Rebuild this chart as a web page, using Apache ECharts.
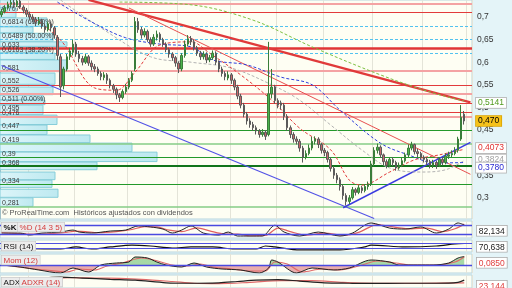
<!DOCTYPE html>
<html><head><meta charset="utf-8">
<script src="https://cdn.jsdelivr.net/npm/echarts@6/dist/echarts.min.js"></script>
<style>html,body{margin:0;padding:0;background:#e4f4f8}#c{width:512px;height:288px}</style>
</head><body><div id="c"></div>
<script>
// ---- DATA ----
// candles: [open, close, low, high]
const candles = [
[0.705,0.712,0.700,0.718],[0.712,0.720,0.708,0.726],[0.720,0.728,0.716,0.734],[0.728,0.732,0.722,0.738],[0.732,0.726,0.720,0.738],
[0.726,0.735,0.722,0.740],[0.735,0.722,0.718,0.738],[0.722,0.715,0.708,0.726],[0.715,0.706,0.700,0.720],[0.706,0.700,0.694,0.712],
[0.700,0.695,0.688,0.706],[0.695,0.688,0.680,0.700],[0.686,0.692,0.682,0.700],[0.692,0.680,0.674,0.696],[0.680,0.672,0.665,0.686],
[0.672,0.685,0.668,0.690],[0.685,0.676,0.668,0.690],[0.676,0.660,0.652,0.680],[0.655,0.615,0.605,0.660],[0.612,0.545,0.523,0.618],
[0.548,0.585,0.540,0.590],[0.585,0.612,0.580,0.618],[0.612,0.625,0.605,0.632],[0.622,0.640,0.615,0.650],[0.640,0.618,0.612,0.645],
[0.618,0.608,0.600,0.625],[0.608,0.600,0.593,0.614],[0.600,0.612,0.596,0.618],[0.612,0.598,0.592,0.616],[0.598,0.590,0.582,0.604],
[0.590,0.585,0.578,0.596],[0.585,0.575,0.570,0.590],[0.575,0.568,0.560,0.580],[0.566,0.572,0.560,0.578],[0.572,0.560,0.552,0.576],
[0.560,0.548,0.542,0.564],[0.548,0.540,0.532,0.552],[0.540,0.528,0.518,0.544],[0.528,0.522,0.512,0.532],[0.522,0.535,0.518,0.540],
[0.535,0.545,0.530,0.552],[0.545,0.560,0.540,0.565],[0.560,0.575,0.556,0.580],[0.585,0.690,0.580,0.700],[0.690,0.672,0.665,0.698],
[0.672,0.660,0.652,0.678],[0.660,0.668,0.655,0.675],[0.668,0.650,0.645,0.672],[0.650,0.640,0.634,0.655],[0.640,0.655,0.636,0.662],
[0.655,0.662,0.648,0.670],[0.662,0.650,0.644,0.666],[0.650,0.640,0.634,0.654],[0.640,0.628,0.622,0.644],[0.628,0.618,0.610,0.632],
[0.618,0.610,0.603,0.622],[0.610,0.598,0.590,0.614],[0.598,0.585,0.576,0.602],[0.585,0.615,0.580,0.620],[0.615,0.640,0.610,0.648],
[0.640,0.652,0.635,0.660],[0.652,0.645,0.638,0.658],[0.645,0.632,0.626,0.650],[0.632,0.620,0.614,0.636],[0.620,0.612,0.605,0.625],
[0.612,0.618,0.606,0.624],[0.618,0.605,0.598,0.622],[0.605,0.610,0.600,0.616],[0.610,0.620,0.605,0.626],[0.620,0.600,0.594,0.624],
[0.600,0.585,0.578,0.604],[0.585,0.575,0.568,0.590],[0.575,0.568,0.560,0.580],[0.565,0.572,0.560,0.580],[0.572,0.560,0.552,0.576],
[0.560,0.545,0.538,0.564],[0.545,0.525,0.518,0.550],[0.525,0.505,0.498,0.530],[0.505,0.485,0.478,0.510],[0.485,0.470,0.462,0.490],
[0.470,0.462,0.455,0.476],[0.462,0.455,0.448,0.468],[0.455,0.448,0.440,0.460],[0.448,0.440,0.433,0.452],[0.440,0.445,0.435,0.452],
[0.445,0.436,0.428,0.450],[0.440,0.530,0.436,0.645],[0.530,0.545,0.520,0.585],[0.545,0.515,0.508,0.550],[0.515,0.505,0.498,0.520],
[0.510,0.505,0.495,0.515],[0.505,0.480,0.472,0.510],[0.480,0.455,0.448,0.485],[0.455,0.440,0.432,0.460],[0.440,0.430,0.422,0.445],
[0.430,0.425,0.418,0.436],[0.425,0.410,0.402,0.430],[0.410,0.390,0.378,0.415],[0.390,0.398,0.385,0.405],[0.398,0.410,0.394,0.418],
[0.410,0.425,0.405,0.435],[0.425,0.430,0.418,0.436],[0.430,0.418,0.410,0.434],[0.418,0.405,0.398,0.422],[0.405,0.400,0.392,0.410],
[0.400,0.385,0.378,0.404],[0.385,0.365,0.358,0.390],[0.365,0.350,0.342,0.370],[0.350,0.340,0.332,0.355],[0.340,0.325,0.316,0.345],
[0.325,0.305,0.296,0.330],[0.305,0.292,0.283,0.310],[0.292,0.300,0.286,0.306],[0.300,0.318,0.296,0.324],[0.318,0.312,0.305,0.322],
[0.312,0.322,0.308,0.328],[0.322,0.316,0.310,0.326],[0.316,0.325,0.312,0.330],[0.325,0.330,0.318,0.336],[0.330,0.375,0.326,0.382],
[0.375,0.405,0.370,0.412],[0.405,0.412,0.398,0.420],[0.412,0.395,0.388,0.416],[0.395,0.380,0.372,0.398],[0.380,0.372,0.365,0.385],
[0.372,0.385,0.368,0.390],[0.385,0.378,0.370,0.390],[0.378,0.366,0.360,0.382],[0.366,0.372,0.362,0.378],[0.372,0.382,0.368,0.388],
[0.382,0.395,0.378,0.400],[0.395,0.410,0.390,0.418],[0.410,0.418,0.405,0.424],[0.418,0.402,0.396,0.420],[0.402,0.398,0.390,0.408],
[0.398,0.390,0.384,0.402],[0.390,0.385,0.378,0.394],[0.385,0.380,0.372,0.390],[0.380,0.372,0.365,0.384],[0.372,0.378,0.366,0.384],
[0.378,0.372,0.364,0.382],[0.372,0.385,0.368,0.390],[0.385,0.378,0.372,0.390],[0.378,0.392,0.374,0.398],[0.392,0.395,0.386,0.402],
[0.395,0.398,0.390,0.405],[0.398,0.405,0.394,0.412],[0.405,0.430,0.400,0.435],[0.430,0.478,0.426,0.505],[0.485,0.470,0.462,0.492]
];
const slotCount = 152;
const categories = Array.from({length: slotCount}, (_, i) => 'S' + i);
const monthStarts = [9, 24, 41, 57, 74, 89, 104, 120, 136, 150];
const priceTicks = [0.3, 0.35, 0.45, 0.5, 0.55, 0.6, 0.65, 0.7];
const lastPrice = 0.470;

const levelPrices = [0.733, 0.707, 0.6814, 0.6489, 0.633, 0.6163, 0.581, 0.552, 0.526, 0.511, 0.495, 0.476, 0.447, 0.419, 0.39, 0.368, 0.334, 0.281];
const levelLabels = ['', '0,707', '0,6814 (61.80%)', '0,6489 (50.00%)', '0,633', '0,6163 (38.20%)', '0,581', '0,552', '0,526', '0,511 (0.00%)', '0,495', '0,476', '0,447', '0,419', '0,39', '0,368', '0,334', '0,281'];
const levelKinds = ['resLight','res','fib','fib','resStrong','fib','resLight','res','resLight','res','res','resLight','sup','supLight','sup','supStrong','sup','supLight'];

const profileLow  = [0.720,0.698,0.678,0.664,0.645,0.634,0.620,0.605,0.578,0.550,0.527,0.516,0.505,0.483,0.461,0.439,0.421,0.401,0.379,0.361,0.339,0.322,0.300,0.280];
const profileHigh = [0.738,0.720,0.698,0.678,0.664,0.645,0.634,0.620,0.605,0.576,0.545,0.527,0.516,0.505,0.483,0.461,0.439,0.421,0.401,0.379,0.357,0.339,0.319,0.300];
const profileVol  = [14,16,47,33,53,67,47,55,67,55,53,43,45,43,57,47,90,132,157,97,55,52,58,33];

const maRed = [[6,0.720],[19,0.649],[30,0.543],[37,0.538],[43,0.578],[51,0.638],[61,0.645],[67,0.620],[77,0.572],[87,0.516],[96,0.454],[106,0.406],[112,0.339],[116,0.328],[125,0.357],[133,0.384],[141,0.395],[149,0.4073]];
const maGray = [[19,0.7376],[32,0.676],[48,0.612],[61,0.600],[74,0.587],[87,0.550],[96,0.516],[106,0.461],[116,0.406],[125,0.366],[135,0.357],[143,0.362],[149,0.3824]];
const maBlue = [[18,0.733],[29,0.689],[40,0.654],[51,0.640],[61,0.634],[68,0.605],[79,0.594],[90,0.567],[100,0.550],[109,0.494],[122,0.421],[131,0.395],[140,0.377],[149,0.378]];
const maGreen = [[38,0.733],[61,0.727],[81,0.693],[100,0.634],[122,0.572],[138,0.534],[149,0.5141]];

const trendThick = [[28,0.738],[151,0.511]];
const trendThin = [[41,0.720],[151,0.352]];
const trendBlueDown = [[0,0.5925],[120,0.254]];
const trendBlueUp = [[110,0.278],[151,0.4226]];

const stochK = [[0,25],[6,25],[9,11],[13,25],[19,32],[23,46],[25,32],[29,25],[35,39],[40,46],[44,75],[48,68],[52,53],[55,25],[58,46],[61,75],[65,25],[70,11],[73,32],[76,4],[80,4],[84,4],[88,80],[91,32],[96,4],[102,32],[109,4],[113,25],[119,96],[125,60],[130,53],[135,68],[140,25],[144,53],[147,96],[149,82.134]];
const stochD = [[0,28],[8,20],[12,18],[20,28],[24,38],[27,35],[31,27],[37,35],[42,50],[46,70],[50,68],[54,45],[58,35],[63,62],[67,40],[72,18],[76,18],[80,6],[85,8],[89,60],[93,35],[98,10],[104,25],[110,10],[115,30],[121,85],[127,65],[132,55],[137,60],[142,35],[146,55],[149,88]];
const stochBands = [80, 20];
const rsi = [[0,42],[6,42],[10,27],[19,25],[24,42],[29,25],[35,42],[42,58],[48,50],[55,33],[61,42],[68,42],[75,25],[82,25],[85,50],[88,42],[96,17],[109,17],[117,42],[119,58],[130,42],[140,50],[146,67],[149,70.638]];
const rsiBands = [70, 30];
const mom = [[0,0],[6,-0.02],[12,-0.05],[19,-0.08],[23,-0.03],[28,-0.07],[32,0],[37,0.02],[41,0.03],[43,0.08],[47,0.07],[50,0.03],[53,0],[58,-0.02],[62,0.02],[66,-0.02],[71,-0.04],[77,-0.05],[83,-0.08],[86,-0.03],[87,0.05],[89,0.03],[95,-0.08],[100,-0.03],[107,-0.05],[112,-0.03],[119,0.05],[125,0.03],[128,0],[134,0],[139,0],[144,0.02],[147,0.07],[149,0.085]];
const momSignal = [[0,0.005],[8,-0.03],[14,-0.05],[21,-0.07],[25,-0.04],[30,-0.05],[34,-0.01],[39,0.02],[45,0.07],[49,0.05],[55,0],[60,-0.01],[64,0.01],[68,-0.02],[74,-0.04],[80,-0.06],[85,-0.06],[88,0.03],[92,0.01],[97,-0.07],[103,-0.04],[109,-0.05],[115,-0.01],[121,0.04],[127,0.02],[132,0],[140,0],[146,0.03],[149,0.08]];
const adx = [[0,20],[10,26],[19,30],[26,28],[35,25],[43,23],[53,17],[60,16],[70,17],[76,20],[82,23],[89,24.5],[96,21],[104,17],[112,16],[118,15.5],[130,16],[140,16],[147,18],[149,23.144]];
const adxr = [[0,22],[12,25],[22,29],[30,28],[38,27],[45,25],[55,20],[62,16],[70,15],[80,18],[90,22],[100,22],[110,18],[120,16],[135,16],[149,17]];

// ---- STYLES ----
const FONT = '"Liberation Sans", Arial, sans-serif';
const levelStyle = {
  res: {color:'#e23b3b', width:1.2, type:'solid'},
  resLight: {color:'#f4a3a3', width:2.2, type:'solid'},
  resStrong: {color:'#e03535', width:2.6, type:'solid'},
  fib: {color:'#52c2ef', width:1, type:[3,2]},
  sup: {color:'#23992a', width:1.2, type:'solid'},
  supLight: {color:'#86cc86', width:1.5, type:'solid'},
  supStrong: {color:'#11741a', width:2.2, type:'solid'}
};
const comma = (v, d) => v.toFixed(d).replace('.', ',');
const last = a => a[a.length - 1][1];

const chart = echarts.init(document.getElementById('c'), null, {renderer:'canvas'});
const gridBase = {left:0, right:40, show:true, backgroundColor:'#fefef3', borderColor:'#b8d6df', borderWidth:1};
const grids = [
  Object.assign({top:0, height:219}, gridBase),
  Object.assign({top:221, height:17}, gridBase),
  Object.assign({top:240, height:12}, gridBase),
  Object.assign({top:254, height:19}, gridBase),
  Object.assign({top:275, height:20}, gridBase)
];
const catAxis = gi => ({type:'category', gridIndex:gi, data:categories, boundaryGap:true,
  axisLine:{show:false}, axisTick:{show:false}, axisLabel:{show:false},
  splitLine:{show:true, interval:(idx) => monthStarts.includes(idx), lineStyle:{color:'#e4e4d8', width:1}}});
const hiddenY = (gi, min, max) => ({type:'value', gridIndex:gi, min, max, position:'right', axisLine:{show:false}, axisTick:{show:false}, axisLabel:{show:false}, splitLine:{show:false}});

const boxLabel = (text, color, bg, border) => ({text, fill:color, font:'8.5px ' + FONT, backgroundColor:bg, borderColor:border, borderWidth:0.8, padding:[1,2,0,2]});

const endBox = (val, dec, color, bg, border, offset) => ({
  symbol:'none', silent:true, z:8,
  lineStyle:{color:'rgba(0,0,0,0)', width:0.1, type:'solid'},
  data:[{yAxis: val}],
  label:{show:true, position:'end', distance:4, formatter: () => comma(val, dec), color, backgroundColor:bg,
    borderColor:border, borderWidth:0.8, padding:[1,2,0,2], fontSize:8.5, fontFamily:FONT, offset: offset || [0,0]}
});
const maLine = (name, data, color, dec, boxColor, offset) => {
  const s = {type:'line', name, xAxisIndex:0, yAxisIndex:0, data, smooth:0.35, symbol:'none', z:4,
    lineStyle:{color, width:1, type:[3,2]}};
  if (boxColor) s.markLine = endBox(last(data), dec, boxColor, '#ffffff', '#b5b5b5', offset);
  return s;
};
const trend = (data, color, width) => ({type:'line', xAxisIndex:0, yAxisIndex:0, data, symbol:'none', z:3, silent:true, lineStyle:{color, width}});

const momFill = new echarts.graphic.LinearGradient(0, 254, 0, 273, [
  {offset:0, color:'#9dd49d'}, {offset:11/19, color:'#9dd49d'}, {offset:11/19, color:'#e7a4a4'}, {offset:1, color:'#e7a4a4'}], true);

const option = {
  animation:false,
  backgroundColor:'#e4f4f8',
  grid: grids,
  xAxis: [catAxis(0), {type:'value', gridIndex:0, min:0, max:472, show:false}, catAxis(1), catAxis(2), catAxis(3), catAxis(4)],
  yAxis: [
    {type:'value', gridIndex:0, min:0.2531, max:0.7376, position:'right', scale:true,
      axisLine:{show:true, lineStyle:{color:'#9fbfc8'}},
      axisTick:{show:true, customValues:priceTicks, length:4, lineStyle:{color:'#444'}},
      axisLabel:{show:true, customValues:priceTicks, formatter:v => String(+v.toFixed(2)).replace('.', ','), color:'#333', fontSize:8.5, fontFamily:FONT, margin:5},
      splitLine:{show:false}},
    hiddenY(1, -10, 110), hiddenY(2, 0, 100), hiddenY(3, -0.08, 0.11), hiddenY(4, 5, 35)
  ],
  series: [
    {type:'custom', xAxisIndex:1, yAxisIndex:0, z:1, silent:true, encode:{x:2, y:[0,1]},
      data: profileLow.map((lo, k) => [lo, profileHigh[k], profileVol[k]]),
      renderItem:(params, api) => {
        const top = api.coord([api.value(2), api.value(1)]);
        const bot = api.coord([0, api.value(0)]);
        return {type:'rect', shape:{x:bot[0], y:top[1], width:top[0]-bot[0], height:bot[1]-top[1]-0.5},
          style:{fill:new echarts.graphic.LinearGradient(0,0,1,0,[{offset:0,color:'#dcf5f9'},{offset:1,color:'#bde9f0'}]), stroke:'#86cdd9', lineWidth:1}};
      }},
    {type:'line', xAxisIndex:0, yAxisIndex:0, data:[], z:2,
      markLine:{symbol:'none', silent:true, z:2,
        data: levelPrices.map((p, k) => ({yAxis:p, lineStyle:levelStyle[levelKinds[k]],
          label:{show: levelLabels[k] !== '', formatter: levelLabels[k], position:'insideStartTop', distance:[2,0],
            color:'#3a3a3a', fontSize:7, fontFamily:FONT}}))}},
    trend(trendThick, '#e03a3a', 2.2),
    trend(trendThin, '#e85050', 1),
    trend(trendBlueDown, '#5252e6', 1.1),
    trend(trendBlueUp, '#3b3be0', 1.5),
    maLine('green', maGreen, '#7cc040', 4, '#4f9a1c'),
    maLine('gray', maGray, '#b2b2b2', 4, '#a0a0a0', [0,-2]),
    maLine('blue', maBlue, '#2f3fdc', 4, '#2a2ad0', [0,6]),
    maLine('red', maRed, '#e23c3c', 4, '#e03030'),
    {type:'candlestick', xAxisIndex:0, yAxisIndex:0, data:candles, z:6, barWidth:2,
      itemStyle:{color:'#4cb34c', color0:'#c76a6a', borderColor:'#3a7d3a', borderColor0:'#5a5a5a', borderWidth:1},
      markLine: endBox(lastPrice, 3, '#000', '#f6c21a', '#d9a200')},
    {type:'line', xAxisIndex:2, yAxisIndex:1, data:stochD, symbol:'none', smooth:0.3, lineStyle:{color:'#e06060', width:1.2}},
    {type:'line', xAxisIndex:2, yAxisIndex:1, data:stochK, symbol:'none', smooth:0.3, lineStyle:{color:'#222', width:1},
      markLine:{symbol:'none', silent:true, data:stochBands.map(v => ({yAxis:v})), lineStyle:{color:'#4a4ae0', width:1.3, type:'solid'}, label:{show:false}}},
    {type:'line', xAxisIndex:3, yAxisIndex:2, data:rsi, symbol:'none', smooth:0.3, lineStyle:{color:'#111', width:1.2},
      markLine:{symbol:'none', silent:true, data:rsiBands.map(v => ({yAxis:v})), lineStyle:{color:'#5050e0', width:1.2, type:'solid'}, label:{show:false}}},
    {type:'line', xAxisIndex:4, yAxisIndex:3, data:mom, symbol:'none', smooth:0.3, lineStyle:{width:0}, areaStyle:{origin:0, color:momFill, opacity:0.9}, z:1},
    {type:'line', xAxisIndex:4, yAxisIndex:3, data:momSignal, symbol:'none', smooth:0.3, lineStyle:{color:'#e06a6a', width:1.2}, z:2},
    {type:'line', xAxisIndex:4, yAxisIndex:3, data:mom, symbol:'none', smooth:0.3, lineStyle:{color:'#222', width:1}, z:3,
      markLine:{symbol:'none', silent:true, data:[{yAxis:0}], lineStyle:{color:'#4a4ae0', width:1.3, type:'solid'}, label:{show:false}}},
    {type:'line', xAxisIndex:5, yAxisIndex:4, data:adxr, symbol:'none', smooth:0.3, lineStyle:{color:'#e06a6a', width:1.2}},
    {type:'line', xAxisIndex:5, yAxisIndex:4, data:adx, symbol:'none', smooth:0.3, lineStyle:{color:'#222', width:1.2}}
  ],
  graphic: [
    {type:'text', left:2, top:209, z:20, style:{text:'© ProRealTime.com  Históricos ajustados con dividendos', fill:'#555', font:'7.5px ' + FONT}},
    {type:'text', left:1, top:222, z:20, style:{text:'%K', fill:'#111', font:'bold 8px ' + FONT, backgroundColor:'#ececec', borderColor:'#c4c4c4', borderWidth:0.6, padding:[1,2,0,2]}},
    {type:'text', left:17, top:222, z:20, style:{text:'%D (14 3 5)', fill:'#d43b3b', font:'8px ' + FONT, backgroundColor:'#ececec', borderColor:'#c4c4c4', borderWidth:0.6, padding:[1,2,0,2]}},
    {type:'text', left:1, top:241, z:20, style:{text:'RSI (14)', fill:'#111', font:'8px ' + FONT, backgroundColor:'#ececec', borderColor:'#c4c4c4', borderWidth:0.6, padding:[1,2,0,2]}},
    {type:'text', left:1, top:255, z:20, style:{text:'Mom (12)', fill:'#d43b3b', font:'8px ' + FONT, backgroundColor:'#ececec', borderColor:'#c4c4c4', borderWidth:0.6, padding:[1,2,0,2]}},
    {type:'text', left:1, top:277, z:20, style:{text:'ADX', fill:'#111', font:'8px ' + FONT, backgroundColor:'#ececec', borderColor:'#c4c4c4', borderWidth:0.6, padding:[1,2,0,2]}},
    {type:'text', left:19, top:277, z:20, style:{text:'ADXR (14)', fill:'#d43b3b', font:'8px ' + FONT, backgroundColor:'#ececec', borderColor:'#c4c4c4', borderWidth:0.6, padding:[1,2,0,2]}},
    {type:'text', left:476, top:225, z:20, style:boxLabel(comma(last(stochK), 3), '#222', '#fff', '#aaa')},
    {type:'text', left:476, top:241, z:20, style:boxLabel(comma(last(rsi), 3), '#222', '#fff', '#aaa')},
    {type:'text', left:476, top:257, z:20, style:boxLabel(comma(last(mom), 4), '#e04040', '#fff', '#aaa')},
    {type:'text', left:476, top:280, z:20, style:boxLabel(comma(last(adx), 3), '#e04040', '#fff', '#aaa')}
  ]
};
chart.setOption(option);
</script>
</body></html>
